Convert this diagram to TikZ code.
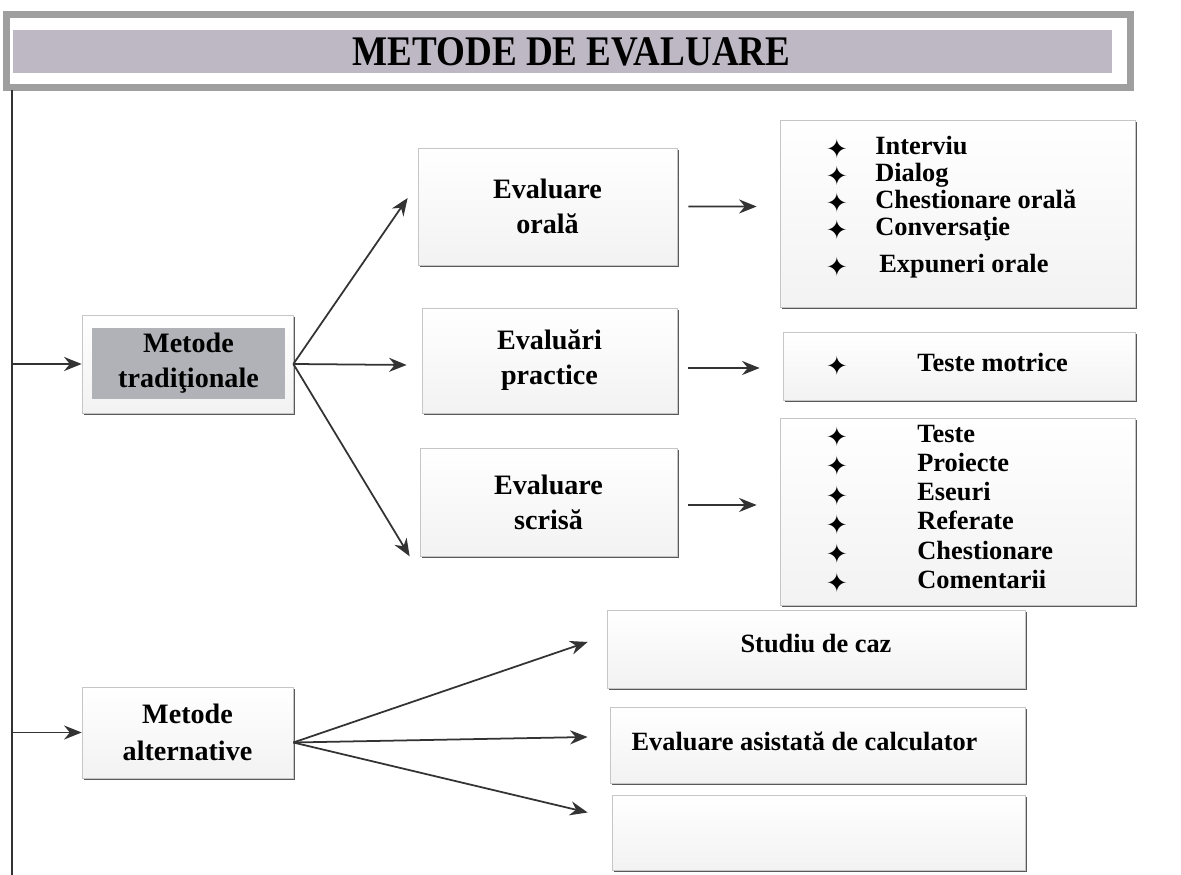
\documentclass[tikz,border=0pt]{standalone}
\usepackage{fontspec}
\setmainfont{Liberation Serif}
\newfontfamily\symfont{DejaVu Sans}
\usetikzlibrary{arrows.meta,shadows}

\definecolor{bandcol}{RGB}{190,184,196}
\definecolor{tradcol}{RGB}{176,178,183}

\begin{document}
\begin{tikzpicture}[font=\bfseries,
  box/.style={draw=gray!45, top color=white, bottom color=gray!10, inner sep=0pt, align=center,
    drop shadow={shadow xshift=0.9pt, shadow yshift=-1.4pt, fill=black!65, opacity=1}},
  mid/.style={font=\bfseries\fontsize{16}{20}\selectfont},
  arr/.style={draw=black!80, line width=1pt, -{Stealth[length=10pt,width=8pt]}},
  item/.style={anchor=west, inner sep=0pt, text height=1.5ex, text depth=0.25ex,
    font=\bfseries\fontsize{15}{18}\selectfont},
  star/.style={inner sep=0pt, font=\symfont\fontsize{15}{15}\selectfont}]
\useasboundingbox (0,0) rectangle (23.62,17.5);

% title
\draw[gray!75, line width=3.5pt] (0.13,15.75) rectangle (22.61,17.21);
\node[fill=bandcol, minimum width=21.98cm, minimum height=0.86cm, inner sep=0pt] (title) at (11.25,16.47)
  {\hspace*{0.36cm}\scalebox{0.88}[1]{\fontsize{24}{28}\selectfont METODE DE EVALUARE}};

% left line
\coordinate (top) at (0.24,15.7);
\coordinate (bot) at (0.24,0);
\coordinate (lt) at (0.24,10.22);
\coordinate (la) at (0.24,2.85);
\draw[black!80, line width=1pt] (top) -- (bot);

% traditional methods
\node[box, minimum width=4.22cm, minimum height=1.96cm] (tradbox) at (3.75,10.22) {};
\node[fill=tradcol, minimum width=3.86cm, minimum height=1.42cm, inner sep=0pt, align=center, mid] (trad) at (3.77,10.23) {Metode\\tradiţionale};

\node[box, mid, minimum width=5.18cm, minimum height=2.34cm] (oral) at (10.95,13.37) {Evaluare\\orală};
\node[box, mid, minimum width=5.1cm, minimum height=2.1cm] (practice) at (10.99,10.29) {Evaluări\\practice};
\node[box, mid, minimum width=5.14cm, minimum height=2.16cm] (scrisa) at (10.97,7.46) {Evaluare\\scrisă};

\node[box, minimum width=7.1cm, minimum height=3.74cm] (orallist) at (19.15,13.23) {};
\foreach \x/\y/\t [count=\i] in {17.5/14.52/Interviu, 17.5/13.98/Dialog, 17.5/13.44/Chestionare orală, 17.5/12.9/Conversaţie, 17.58/12.16/Expuneri orale}{
  \node[star] (os\i) at (16.74,\y) {✦};
  \node[item] (ot\i) at (\x,\y) {\t};
}

\node[box, minimum width=7.04cm, minimum height=1.36cm] (motrice) at (19.18,10.18) {};
\node[star] (ms) at (16.74,10.18) {✦};
\node[item] (mt) at (18.34,10.18) {Teste motrice};

\node[box, minimum width=7.1cm, minimum height=3.74cm] (writlist) at (19.15,7.27) {};
\foreach \y/\t [count=\i] in {8.76/Teste, 8.18/Proiecte, 7.59/Eseuri, 7.01/Referate, 6.42/Chestionare, 5.84/Comentarii}{
  \node[star] (ws\i) at (16.74,\y) {✦};
  \node[item] (wt\i) at (18.34,\y) {\t};
}

% alternative methods
\node[box, minimum width=4.22cm, minimum height=1.82cm, font=\bfseries\fontsize{16}{21}\selectfont] (alt) at (3.75,2.85) {Metode\\alternative};
\node[box, minimum width=8.36cm, minimum height=1.56cm, font=\bfseries\fontsize{15}{18}\selectfont] (caz) at (16.32,4.52) {\raisebox{0.22cm}{Studiu de caz}};
\node[box, minimum width=8.3cm, minimum height=1.52cm, font=\bfseries\fontsize{15}{18}\selectfont] (calc) at (16.35,2.6) {\raisebox{0.16cm}{Evaluare asistată de calculator}\hspace*{0.52cm}};
\node[box, minimum width=8.26cm, minimum height=1.5cm] (empty) at (16.37,0.85) {};

% arrows
\draw[arr] (lt) -- (tradbox.west);
\draw[arr] (la) -- (alt.west);
\draw[arr] (tradbox.east) -- ([shift={(-0.2,0.17)}]oral.west);
\draw[arr] (tradbox.east) -- ([shift={(-0.3,-0.09)}]practice.west);
\draw[arr] (tradbox.east) -- ([xshift=-0.2cm]scrisa.south west);
\draw[arr] ([xshift=0.22cm]oral.east) -- ([shift={(-0.46,0.14)}]orallist.west);
\draw[arr] ([shift={(0.22,-0.15)}]practice.east) -- ([shift={(-0.46,-0.04)}]motrice.west);
\draw[arr] ([shift={(0.22,-0.06)}]scrisa.east) -- ([shift={(-0.46,0.13)}]writlist.west);
\draw[arr] ([yshift=-0.2cm]alt.east) -- ([shift={(-0.38,0.14)}]caz.west);
\draw[arr] ([yshift=-0.2cm]alt.east) -- ([shift={(-0.44,0.16)}]calc.west);
\draw[arr] ([yshift=-0.2cm]alt.east) -- ([shift={(-0.48,0.4)}]empty.west);

\end{tikzpicture}
\end{document}
